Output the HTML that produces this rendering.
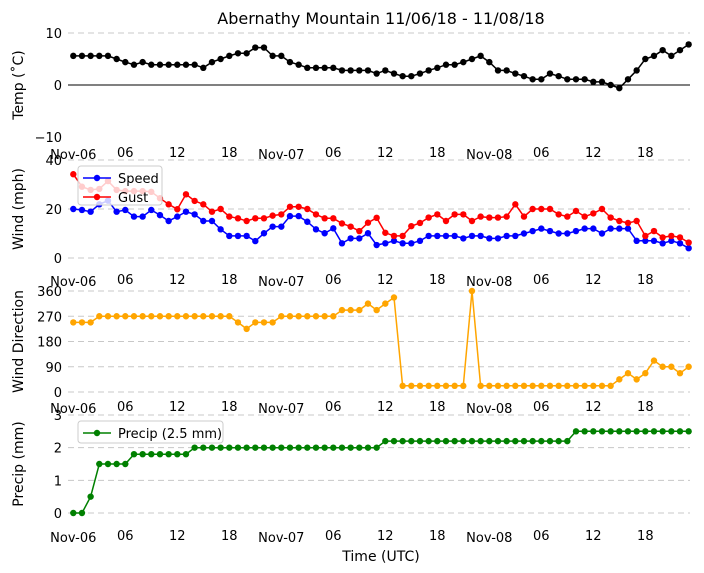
<!DOCTYPE html>
<html><head><meta charset="utf-8"><style>
body{margin:0;background:#fff}
svg{display:block;font-family:"DejaVu Sans","Liberation Sans",sans-serif}
</style></head><body>
<svg id="chart" width="704" height="573" viewBox="0 0 704 573" xmlns="http://www.w3.org/2000/svg">
<text x="381" y="24" font-size="16" text-anchor="middle">Abernathy Mountain 11/06/18 - 11/08/18</text>
<text x="381" y="561" font-size="14" text-anchor="middle">Time (UTC)</text>
<g id="root"></g>
</svg>
<script>
const hours = Array.from({length:72},(_, i)=>i);
const xTickHours = [0,6,12,18,24,30,36,42,48,54,60,66];
const xTickLabels = ["Nov-06","06","12","18","Nov-07","06","12","18","Nov-08","06","12","18"];
const temp = [5.6,5.6,5.6,5.6,5.6,5.0,4.4,3.9,4.4,3.9,3.9,3.9,3.9,3.9,3.9,3.3,4.4,5.0,5.6,6.1,6.1,7.2,7.2,5.6,5.6,4.4,3.9,3.3,3.3,3.3,3.3,2.8,2.8,2.8,2.8,2.2,
 2.8,2.2,1.7,1.7,2.2,2.8,3.3,3.9,3.9,4.4,5.0,5.6,4.4,2.8,2.8,2.2,1.7,1.1,1.1,2.2,1.7,1.1,1.1,1.1,0.6,0.6,0,-0.6,1.1,2.8,5.0,5.6,6.7,5.6,6.7,7.8];
const speed = [20,19.6,18.9,21.9,23.4,18.9,19.6,16.9,16.9,19.6,17.5,15.1,16.9,18.9,17.8,15.1,15.1,11.7,9,9,9,6.9,10.1,12.8,12.8,17.1,17.1,14.8,11.7,10.1,12.1,6,8,8,10.1,5.3,
 6,7,6,6,7,9,9,9,9,8,9,9,8,8,9,9,10,11,12,11,10,10,11,12,12,10,12,12,12,7,7,7,6,7,6,4];
const gust = [34.2,29.1,27.8,28.2,31.4,27.8,27.3,27.3,27.3,27,24.4,21.9,19.9,26,23.3,21.9,18.9,20,16.9,16.2,15.1,16.2,16.2,17.3,17.8,20.9,20.9,20,17.8,16.2,16.2,14.1,12.8,11,14.4,16.4,
 10.3,9,9,13,14.3,16.5,17.8,15.1,17.8,17.8,15.1,16.9,16.5,16.5,16.9,21.9,16.9,20,20,20,17.8,16.9,19.2,16.9,18.2,20,16.5,15.1,14.3,15.1,9,11,8.4,9,8.4,6.3];
const direction = [248,248,248,270,270,270,270,270,270,270,270,270,270,270,270,270,270,270,270,248,225,248,248,248,270,270,270,270,270,270,270,292,292,292,315,292,
 315,337,22,22,22,22,22,22,22,22,360,22,22,22,22,22,22,22,22,22,22,22,22,22,22,22,22,45,67,45,67,112,90,90,67,90];
const precip = [0,0,0.5,1.5,1.5,1.5,1.5,1.8,1.8,1.8,1.8,1.8,1.8,1.8,2,2,2,2,2,2,2,2,2,2,2,2,2,2,2,2,2,2,2,2,2,2,
 2.2,2.2,2.2,2.2,2.2,2.2,2.2,2.2,2.2,2.2,2.2,2.2,2.2,2.2,2.2,2.2,2.2,2.2,2.2,2.2,2.2,2.2,2.5,2.5,2.5,2.5,2.5,2.5,2.5,2.5,2.5,2.5,2.5,2.5,2.5,2.5];
const tempTicks=[-10,0,10], windTicks=[0,20,40], dirTicks=[0,90,180,270,360], precipTicks=[0,1,2,3];

const NS="http://www.w3.org/2000/svg";
const root=document.getElementById('root');
function el(tag,attrs,parent){const e=document.createElementNS(NS,tag);for(const k in attrs)e.setAttribute(k,attrs[k]);(parent||root).appendChild(e);return e;}
const xS=h=>73.3+h*8.667;
function panel(name,yTop,yBot,vMin,vMax,ticks,label,xLabY,gridVals,zeroLine){
  const g=el('g',{});
  
  
  const yS=v=>yBot-(v-vMin)/(vMax-vMin)*(yBot-yTop);
  gridVals.forEach(v=>{const l=el('line',{x1:68,x2:690,y1:yS(v),y2:yS(v),stroke:'#c8c8c8','stroke-width':1,'stroke-dasharray':'6,4'},g);
    });
  if(zeroLine){const z=el('line',{x1:68,x2:690,y1:yS(0),y2:yS(0),stroke:'#000','stroke-width':1},g);
    }
  ticks.forEach(v=>{const t=el('text',{x:62,y:yS(v)+5,'font-size':13,'text-anchor':'end'},g);t.textContent=String(v).replace('-','\u2212');
    });
  xTickHours.forEach((h,i)=>{const major=xTickLabels[i].startsWith('Nov');
    const t=el('text',{x:xS(h),y:xLabY+(major?2:0),'font-size':13,'text-anchor':'middle'},g);t.textContent=xTickLabels[i];
    });
  const cy=(yTop+yBot)/2;
  const yl=el('text',{x:0,y:0,'font-size':14,'text-anchor':'middle',transform:`translate(23,${cy}) rotate(-90)`},g);yl.textContent=label;
  
  return {g,yS};
}
function series(p,vals,color,name){
  const pts=vals.map((v,i)=>xS(hours[i]).toFixed(1)+','+p.yS(v).toFixed(1)).join(' ');
  const pl=el('polyline',{points:pts,fill:'none',stroke:color,'stroke-width':1.5},p.g);
  
  vals.forEach((v,i)=>{const c=el('circle',{cx:xS(hours[i]),cy:p.yS(v),r:3.2,fill:color},p.g);
    });
}
function legend(p,x,y,w,h,items,name){
  const r=el('rect',{x,y,width:w,height:h,rx:3,fill:'rgba(255,255,255,0.8)',stroke:'#ccc'},p.g);
  
  items.forEach((it,i)=>{const yy=y+12+i*19;
    const l=el('line',{x1:x+5,x2:x+33,y1:yy,y2:yy,stroke:it[1],'stroke-width':1.5},p.g);
    
    const c=el('circle',{cx:x+19,cy:yy,r:3.2,fill:it[1]},p.g);
    
    const t=el('text',{x:x+40,y:yy+5,'font-size':13},p.g);t.textContent=it[0];
    });
}
const p1=panel('temp',33,137,-10,10,tempTicks,'Temp (˚C)',157,[10],true);
series(p1,temp,'#000','temp');
const p2=panel('wind',160,258,0,40,windTicks,'Wind (mph)',284,[0,20,40],false);
series(p2,speed,'#0000ff','speed');
series(p2,gust,'#ff0000','gust');
legend(p2,78,166,84,39,[['Speed','#0000ff'],['Gust','#ff0000']],'wind-legend');
const p3=panel('direction',291,392,0,360,dirTicks,'Wind Direction',411,[0,90,180,270,360],false);
series(p3,direction,'#ffa500','direction');
const p4=panel('precip',415,513,0,3,precipTicks,'Precip (mm)',540,[0,1,2,3],false);
series(p4,precip,'#008000','precip');
legend(p4,78,421,145,22,[['Precip (2.5 mm)','#008000']],'precip-legend');
</script>
</body></html>
